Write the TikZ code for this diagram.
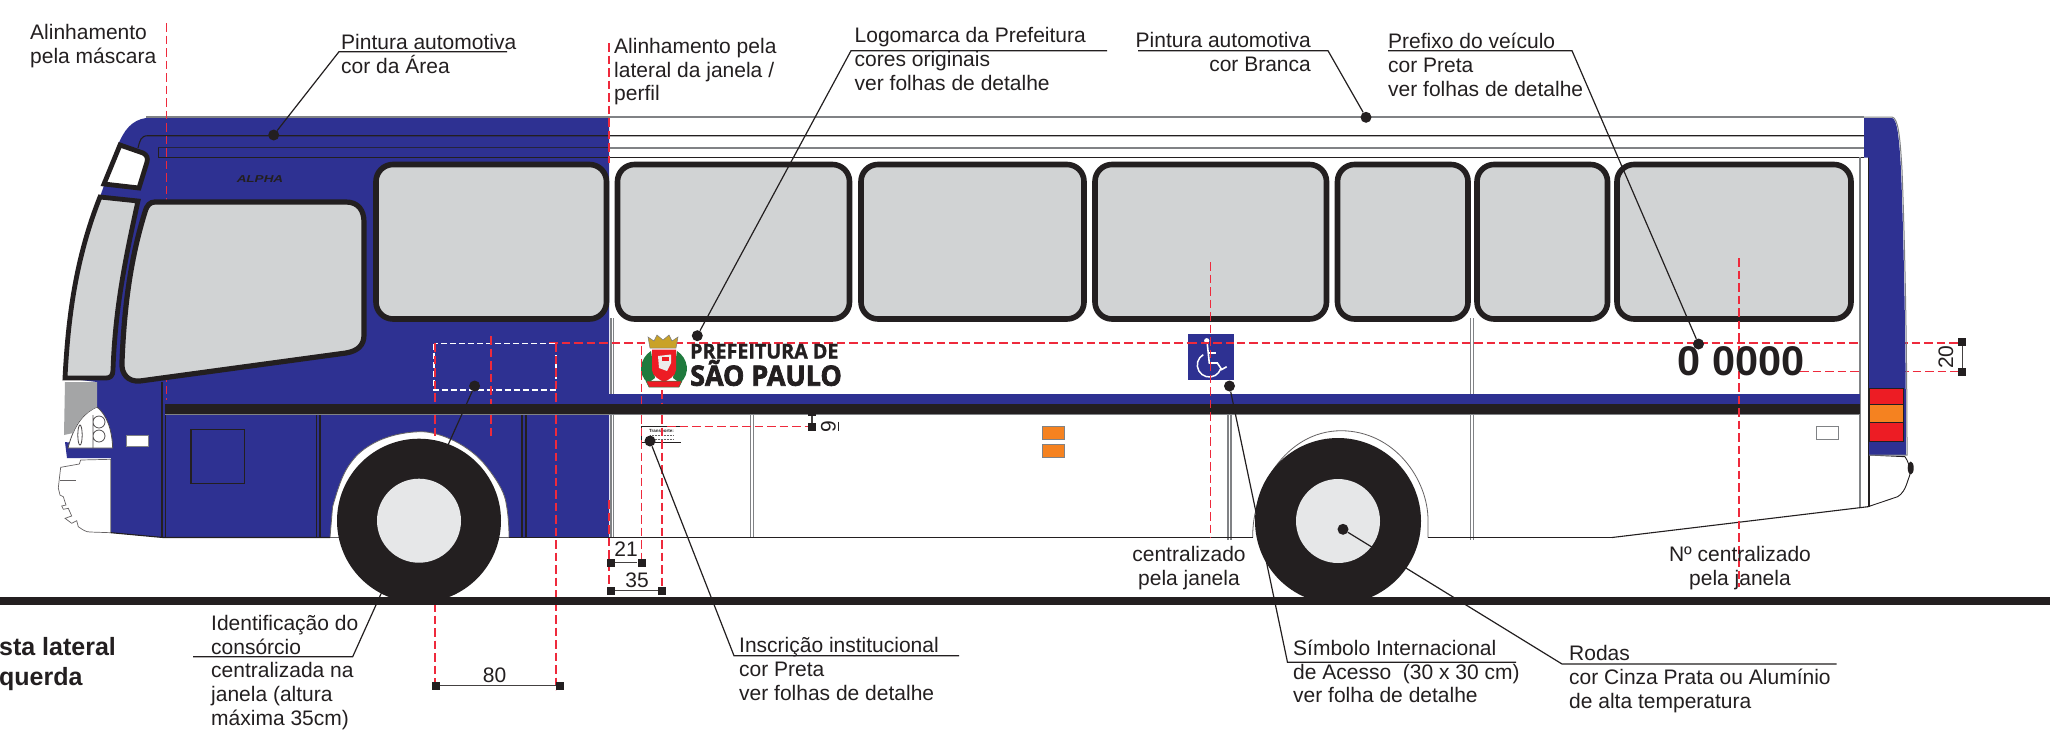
\documentclass[tikz,border=0pt]{standalone}
\usepackage{fontspec}
\setmainfont{Liberation Sans}
\newfontfamily\logofont{Open Sans}[BoldFeatures={FakeBold=1.2}]
\newfontfamily\logofontb{Open Sans}[BoldFeatures={FakeBold=2.6}]
\definecolor{busblue}{HTML}{2E3192}
\definecolor{inkblack}{HTML}{231F20}
\definecolor{glass}{HTML}{D1D3D4}
\definecolor{hubgrey}{HTML}{E6E7E8}
\definecolor{lineg}{HTML}{808285}
\definecolor{dimred}{HTML}{EE2A3C}
\definecolor{lamporange}{HTML}{F58220}
\definecolor{lampred}{HTML}{ED1C24}
\definecolor{leafgreen}{HTML}{1F7A3D}
\definecolor{crowngold}{HTML}{C9A227}
\tikzset{
  lbl/.style={font=\fontsize{21}{23.6}\selectfont, text=inkblack, inner sep=0pt, align=left, anchor=base west},
  lblc/.style={font=\fontsize{21}{23.6}\selectfont, text=inkblack, inner sep=0pt, align=center, anchor=base},
  ttl/.style={font=\fontsize{25}{30}\selectfont\bfseries, text=inkblack, inner sep=0pt, anchor=base west},
  leader/.style={draw=inkblack, line width=1.2pt},
  dotn/.style={circle, fill=inkblack, inner sep=0pt, minimum size=11pt},
  reddash/.style={draw=dimred, line width=1.5pt, dash pattern=on 8.5pt off 4pt},
  winbox/.style={fill=glass, draw=inkblack, line width=5.6pt, rounded corners=17pt},
  bodyline/.style={draw=inkblack, line width=1.1pt},
  greyline/.style={draw=lineg, line width=1.3pt},
  dimsq/.style={rectangle, fill=inkblack, inner sep=0pt, minimum size=8pt},
  dimline/.style={draw=inkblack!85, line width=1.5pt},
}
\begin{document}
\begin{tikzpicture}[x=1pt,y=-1pt]
\useasboundingbox[fill=white] (0,0) rectangle (2065,732);

% --- blue body
\fill[busblue] (609,118) -- (146,118) .. controls (132,120) and (124,130) .. (118,145)
  -- (100,197) -- (65,378) -- (97,382) -- (97,407) -- (113,448) -- (65,442) -- (67,458) -- (111,458)
  -- (111,532.7) -- (163,537.5) -- (609,537.5) -- cycle;
% --- wheel arches
\fill[white,draw=inkblack!70,line width=.8pt] (330,537.5) -- (332.6,506.7)
  .. controls (338,488) and (342,476) .. (348,466.7)
  .. controls (355,456) and (362,450) .. (370.5,445)
  .. controls (385,436) and (405,431.7) .. (422,431.7)
  .. controls (440,432) and (470,445) .. (486.6,466.7)
  .. controls (497,480) and (503,490) .. (505.5,500)
  .. controls (508,512) and (509,525) .. (509,537.5) -- cycle;

% --- front details
\fill[white,draw=inkblack!70,line width=.7pt] (80.7,460) -- (79.3,464) -- (60.7,467.3) -- (59,481.7) -- (58.3,488) -- (60,495) -- (63.3,496.7) -- (66,505) -- (61.7,506) -- (63.3,509.3) -- (68.3,508.3) -- (71.7,516) -- (65,518.3) -- (71.7,523.3) -- (76.7,520.7) -- (78.3,526.7) .. controls (83,530) and (86,532) .. (90,532) -- (110.7,532.7) -- (110.7,459.3) -- cycle;
\draw[line width=.7pt,draw=inkblack!70] (60,480) -- (76,480);
\fill[white] (97,407) .. controls (85,412) and (74,424) .. (68,448) -- (112.7,448) .. controls (112,430) and (107,415) .. (97,407) -- cycle;
\draw[line width=.8pt,draw=inkblack!80] (97,407) .. controls (85,412) and (74,424) .. (68,448) -- (112.7,448) .. controls (112,430) and (107,415) .. (97,407) -- cycle;
\fill[color=gray!55!glass] (65,382) -- (97,382) -- (97,407) .. controls (85,412) and (77,422) .. (73,433) -- (64,435) -- cycle;
\draw[line width=.8pt,draw=inkblack!80] (99,422) circle[radius=6pt] (99,436) circle[radius=6pt] (80,435) ellipse[x radius=2.2pt,y radius=10pt] (93,415) -- (93,448);
\fill[white,draw=lineg,line width=.5pt] (126.7,435) rectangle (148.3,446.7);
\draw[bodyline] (111,532.7) -- (163,537.5) -- (330,537.5);
\draw[bodyline] (509,537.5) -- (609,537.5);

% --- roof lines
\draw[greyline,line width=1.4pt] (146,117) -- (1864,117);
\draw[bodyline] (138,148) .. controls (140,140) and (141,135.7) .. (148,135.7) -- (1864,135.7);
\draw[greyline,line width=1.6pt] (609,147.7) -- (1864,147.7);
\draw[draw=inkblack,line width=1pt,opacity=.75] (158,147.7) -- (609,147.7);
\draw[bodyline,line width=.9pt] (158,147.7) -- (158,157.2) -- (1864,157.2);
\fill[white] (609.8,158) rectangle (1860,393);

% --- thin panel lines
\draw[greyline] (611,318) -- (611,537) (613.5,318) -- (613.5,537);
\draw[greyline] (750.5,414) -- (750.5,537) (753.5,414) -- (753.5,537);
\draw[greyline] (1228,414) -- (1228,540) (1231,414) -- (1231,540);
\draw[greyline] (1470.5,318) -- (1470.5,540) (1473.5,318) -- (1473.5,540);
\draw[bodyline] (162,382) -- (162,537.5) (165.5,414) -- (165.5,537.5);
\draw[bodyline] (316.7,414) -- (316.7,537) (320,414) -- (320,537);
\draw[bodyline] (522,414) -- (522,537) (526,414) -- (526,537);
\draw[bodyline] (191,429.3) rectangle (244.3,483.3);

% --- red alignment lines behind the windows and rear panel
\draw[reddash] (166.7,23) -- (166.7,400);
\draw[reddash] (609,43) -- (609,163);
\draw[reddash] (609,500) -- (609,590);
\draw[reddash] (549,343) -- (1960,343);
\draw[reddash] (1800,371.7) -- (1960,371.7);

% --- rear end
\fill[white,draw=inkblack,line width=.9pt] (1869,455) -- (1905,456.7) .. controls (1911,466) and (1911,475) .. (1908,480) .. controls (1905,490) and (1902,494) .. (1897.6,496.7) -- (1868,506.7) -- cycle;
\draw[bodyline] (1612,537.5) -- (1868,506.7);
\fill[inkblack] (1910.7,468) ellipse[x radius=3pt,y radius=6.5pt];
\fill[white] (1860,157.5) rectangle (1869,506);
\draw[greyline] (1860,157.2) -- (1860,507);
\draw[bodyline] (1869,157.2) -- (1869,507);
\fill[busblue] (1864,118) -- (1892,118) .. controls (1897,119) and (1899,135) .. (1901,170) .. controls (1903,220) and (1906,330) .. (1906,455) -- (1869,455) -- (1869,157.5) -- (1864,157.5) -- cycle;
\draw[greyline,line width=1pt] (1864,117) -- (1892,117) .. controls (1898,118) and (1900,135) .. (1902,170) .. controls (1904,220) and (1907,330) .. (1907,455) -- (1869,455);
\fill[lampred,draw=inkblack,line width=.6pt] (1869,388) rectangle (1903,404);
\fill[lamporange,draw=inkblack,line width=.6pt] (1869,404) rectangle (1903,422);
\fill[lampred,draw=inkblack,line width=.6pt] (1869,422) rectangle (1903,441);
\fill[white,draw=lineg,line width=1pt] (1816,426.7) rectangle (1838.5,439);

% --- side windows
\draw[winbox] (376,164.5) rectangle (606.5,319);
\draw[winbox] (617.5,164.5) rectangle (849.5,319);
\draw[winbox] (861,164.5) rectangle (1084,319);
\draw[winbox] (1095,164.5) rectangle (1326.5,319);
\draw[winbox] (1337.5,164.5) rectangle (1468,319);
\draw[winbox] (1477,164.5) rectangle (1607.5,319);
\draw[winbox] (1617,164.5) rectangle (1851,319);
% --- front windows
\fill[white,draw=inkblack,line width=4.8pt,line join=miter] (120,145) -- (143,153) .. controls (147,155) and (148,158) .. (147,162) -- (139,188) -- (104,184) -- cycle;
\fill[glass,draw=inkblack,line width=4.8pt,line join=miter] (100,197) -- (138,201) .. controls (125,260) and (115,310) .. (113,370) .. controls (113,376) and (110,378) .. (106,378) -- (65,378) .. controls (68,320) and (75,260) .. (100,197) -- cycle;
\fill[glass,draw=inkblack,line width=5.2pt] (155,202) -- (346,202) .. controls (358,202) and (364,210) .. (364,222) -- (364,335) .. controls (364,345) and (358,351) .. (346,353) -- (140,381) .. controls (128,382) and (121,374) .. (122,362) .. controls (124,310) and (130,260) .. (145,212) .. controls (147,205) and (150,202) .. (155,202) -- cycle;

\node[inner sep=0pt, xscale=1.35, font=\fontsize{10}{10}\selectfont\bfseries\itshape, text=inkblack] (brand) at (260,179.5) {ALPHA};

% --- side stripes
\fill[busblue] (609,394) rectangle (1860,404);
\fill[inkblack] (165,404) rectangle (1860,414.5);
\draw[greyline,line width=.8pt] (165,414.7) -- (1860,414.7);

% --- consortium area and lower guide lines
\draw[white,line width=1.2pt,dash pattern=on 6pt off 3pt] (434,343.5) rectangle (556,390);
\draw[reddash] (491,336) -- (491,404) (491,415) -- (491,438);
\draw[reddash] (435,343) -- (435,404) (435,415) -- (435,436);
\draw[reddash] (556,343) -- (556,404) (556,415) -- (556,690);
\draw[reddash] (435,603) -- (435,690);

% --- rear wheel arch
\fill[white,draw=inkblack!70,line width=.8pt] (1252.7,537.5) .. controls (1252,490) and (1285,431) .. (1341,430.7)
  .. controls (1395,431) and (1428,480) .. (1428,520) -- (1428,537.5);
\draw[bodyline] (609,537.5) -- (1252.7,537.5);
\draw[bodyline] (1428,537.5) -- (1612,537.5);

% --- orange markers
\fill[lamporange,draw=lineg,line width=.8pt] (1042,426.3) rectangle (1064,439);
\fill[lamporange,draw=lineg,line width=.8pt] (1042,444.5) rectangle (1064,457.5);

% --- institutional inscription
\draw[inkblack,line width=1pt] (681,426.7) -- (641.5,426.7) -- (641.5,442.7) -- (681,442.7);
\node[inner sep=0pt,font=\fontsize{4.5}{4.5}\selectfont\bfseries,text=inkblack] (transp) at (661.5,431) {Transporte:};
\draw[inkblack!70,line width=.8pt,dash pattern=on 1pt off .5pt] (650,435.5) -- (674,435.5) (650,439.5) -- (674,439.5);

% --- logo
\fill[leafgreen] (651,351) .. controls (640,358) and (637,374) .. (648,383) -- (655,378) -- cycle;
\fill[leafgreen] (677,351) .. controls (688,358) and (691,374) .. (680,383) -- (673,378) -- cycle;
\fill[crowngold,draw=inkblack!60,line width=.5pt] (648,337) -- (654,341) -- (657,335) -- (663,340) -- (669,335) -- (672,341) -- (678,337) -- (676,348) -- (650,348) -- cycle;
\fill[lampred] (652,349.5) -- (676,349.5) -- (676,370) .. controls (676,376) and (668,380) .. (664,382) .. controls (660,380) and (652,376) .. (652,370) -- cycle;
\fill[white!85!gray] (658,356) -- (671,354.5) -- (671,363) -- (667,371) -- (659,368) -- cycle;
\fill[lampred] (662,356.5) rectangle (668.5,360.5);
\fill[lampred,draw=leafgreen,line width=.5pt] (646,381) -- (682,381) -- (679,387) -- (649,387) -- cycle;
\node[inner sep=0pt,anchor=base west,font=\logofont\fontsize{20.4}{21}\selectfont\bfseries,text=inkblack,xscale=.965] (logoa) at (690,358.5) {PREFEITURA DE};
\node[inner sep=0pt,anchor=base west,font=\logofontb\fontsize{28}{29}\selectfont\bfseries,text=inkblack,xscale=.96] (logob) at (690,385.7) {SÃO PAULO};

% --- red guides in front of the white panel
\draw[reddash] (641.5,346) -- (641.5,404) (641.5,415) -- (641.5,563);
\draw[reddash] (662,390) -- (662,404) (662,415) -- (662,593);
\draw[reddash] (667,426.7) -- (810,426.7);

% --- accessibility sign
\fill[busblue] (1188.4,334) rectangle (1234,380);
\fill[white] (1206.7,340.7) circle[radius=2.6pt];
\draw[white,line width=1.6pt] (1207.3,344) -- (1209.3,363) -- (1217.3,363) -- (1221.7,369.5) -- (1226.7,366.7);
\draw[white,line width=1.6pt] (1208,353) -- (1216,353);
\draw[white,line width=1.5pt] (1203.3,354.6) arc[start angle=120,end angle=340,radius=12pt];
\draw[reddash] (1188.4,343) -- (1234,343);
\draw[reddash] (1210.7,262) -- (1210.7,538);
\draw[reddash] (1739,258) -- (1739,587);

% --- vehicle prefix
\node[inner sep=0pt,anchor=base west,font=\fontsize{41.5}{42}\selectfont\bfseries,text=inkblack] (prefixnum) at (1677.5,375) {0 0000};

% --- leader hidden behind the front wheel
\node[dotn] (p8) at (474.6,386) {};
\coordinate (p8e) at (193,656.7); \coordinate (p8k) at (352.7,656.7);
\draw[leader] (p8e) -- (p8k) -- (p8);

% --- wheels
\fill[inkblack] (419,520.7) circle[radius=82pt];
\fill[hubgrey] (419,520.7) circle[radius=42pt];
\fill[inkblack] (1338,521) circle[radius=83pt];
\fill[hubgrey] (1338,521) circle[radius=42pt];

% --- ground
\fill[inkblack] (0,596.7) rectangle (2050,605);

% --- dimensions
\node[dimsq] (d80a) at (436,685.7) {};
\node[dimsq] (d80b) at (560,685.7) {};
\draw[dimline] (d80a) -- (d80b);
\node[lblc] (t80) at (494.6,682.5) {80};
\node[dimsq] (d21a) at (610.7,562.7) {};
\node[dimsq] (d21b) at (641.5,562.7) {};
\draw[dimline] (d21a) -- (d21b);
\node[lblc] (t21) at (626,556.7) {21};
\node[dimsq] (d35a) at (610.7,590.7) {};
\node[dimsq] (d35b) at (662,590.7) {};
\draw[dimline] (d35a) -- (d35b);
\node[lblc] (t35) at (637,587) {35};
\node[dimsq] (d9a) at (812,412) {};
\node[dimsq] (d9b) at (812,426.7) {};
\draw[dimline] (d9a) -- (d9b);
\node[lblc, rotate=90, anchor=base] (t9) at (835.5,426.5) {9};
\draw[inkblack,line width=.8pt] (838,421.7) -- (838,431);
\node[dimsq] (d20a) at (1962.4,342) {};
\node[dimsq] (d20b) at (1962.4,372) {};
\draw[dimline] (d20a) -- (d20b);
\node[lblc, rotate=90, anchor=base] (t20) at (1953,357) {20};

% --- leaders
\node[dotn] (p1) at (273.7,135) {};
\coordinate (p1e) at (507,51.7); \coordinate (p1k) at (339,51.7);
\draw[leader] (p1e) -- (p1k) -- (p1);
\node[dotn] (p2) at (697.3,335.7) {};
\coordinate (p2e) at (1107,50.7); \coordinate (p2k) at (851,50.7);
\draw[leader] (p2e) -- (p2k) -- (p2);
\node[dotn] (p3) at (1366,117.3) {};
\coordinate (p3e) at (1138,50.7); \coordinate (p3k) at (1328,50.7);
\draw[leader] (p3e) -- (p3k) -- (p3);
\node[dotn] (p4) at (1698.5,344) {};
\coordinate (p4e) at (1388,50.7); \coordinate (p4k) at (1572,50.7);
\draw[leader] (p4e) -- (p4k) -- (p4);
\node[dotn] (p5) at (650,441) {};
\coordinate (p5e) at (959,655.7); \coordinate (p5k) at (734,655.7);
\draw[leader] (p5e) -- (p5k) -- (p5);
\node[dotn] (p6) at (1229.5,386) {};
\coordinate (p6e) at (1516,662.3); \coordinate (p6k) at (1287.5,662.3);
\draw[leader] (p6e) -- (p6k) -- (p6);
\node[dotn] (p7) at (1343,529.3) {};
\coordinate (p7e) at (1836.6,664); \coordinate (p7k) at (1562,664);
\draw[leader] (p7e) -- (p7k) -- (p7);

% --- labels (a multi-line node's base is its last line)
\node[lbl] (l1) at (30,63) {Alinhamento\\pela máscara};
\node[lbl] (l2) at (341,73) {Pintura automotiva\\cor da Área};
\node[lbl] (l3) at (614,100.7) {Alinhamento pela\\lateral da janela /\\perfil};
\node[lbl] (l4) at (854.5,90) {Logomarca da Prefeitura\\cores originais\\ver folhas de detalhe};
\node[lbl,align=right,anchor=base east] (l5) at (1311,71) {Pintura automotiva\\cor Branca};
\node[lbl] (l6) at (1388,96) {Prefixo do veículo\\cor Preta\\ver folhas de detalhe};
\node[lblc] (l7) at (1189,585) {centralizado\\pela janela};
\node[lblc] (l8) at (1740,585) {Nº centralizado\\pela janela};
\node[lbl] (l9) at (739,700) {Inscrição institucional\\cor Preta\\ver folhas de detalhe};
\node[lbl] (l10) at (1293,702.7) {Símbolo Internacional\\de Acesso~ (30 x 30 cm)\\ver folha de detalhe};
\node[lbl] (l11) at (1569,708) {Rodas\\cor Cinza Prata ou Alumínio\\de alta temperatura};
\node[lbl] (l12) at (211,725) {Identificação do\\consórcio\\centralizada na\\janela (altura\\máxima 35cm)};
\node[ttl] (t1) at (-1,655) {sta lateral};
\node[ttl] (t2) at (-1,685) {querda};
\end{tikzpicture}
\end{document}
